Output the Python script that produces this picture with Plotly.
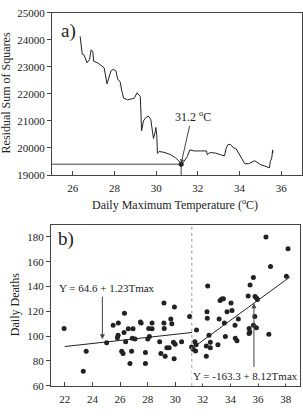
import plotly.graph_objects as go

# ---- Panel a) residual sum of squares vs breakpoint temperature ----
rss_temp = [26.35, 26.45, 26.53, 26.68, 26.8, 26.88, 26.96, 27.0, 27.19, 27.5, 27.64, 27.7,
            27.83, 27.94, 28.07, 28.15, 28.28, 28.34, 28.44, 28.63, 28.95, 29.08, 29.19, 29.24,
            29.3, 29.39, 29.5, 29.62, 29.74, 29.83, 29.87, 29.95, 29.98, 30.03, 30.06, 30.14,
            30.38, 30.7, 30.94, 31.18, 31.22, 31.34, 31.5, 31.62, 31.81, 32.13, 32.42, 32.45,
            32.53, 32.64, 32.85, 33.09, 33.28, 33.36, 33.45, 33.57, 33.73, 33.82, 33.96, 34.12,
            34.25, 34.44, 34.73, 35.0, 35.28, 35.44, 35.48, 35.55, 35.59, 35.6]
rss_value = [24129, 23473, 23450, 23150, 23270, 23630, 23570, 23210, 23150, 22970, 22375, 22550,
             22850, 22910, 22850, 22550, 22430, 22140, 21840, 21780, 21840, 22040, 21960, 21900,
             20640, 21000, 21120, 21180, 21060, 20530, 20350, 20580, 20760, 20470, 19800, 19870,
             19840, 19750, 19630, 19450, 19390, 19510, 19690, 19930, 19890, 19890, 19890, 19750,
             19810, 19830, 19810, 19750, 19710, 19990, 20130, 20130, 19990, 19990, 19810, 19630,
             19420, 19420, 19530, 19390, 19300, 19270, 19510, 19630, 19930, 19810]
break_temp = 31.2
break_rss = 19400

# ---- Panel b) daily deaths vs daily max temperature ----
tmax = [21.95, 23.34, 23.55, 25.03, 25.5, 25.81, 25.86, 25.88, 26.12, 26.22, 26.32, 26.29,
        26.41, 26.6, 26.72, 26.84, 26.89, 26.94, 27.08, 27.48, 27.53, 27.84, 27.84, 28.01,
        28.08, 28.13, 28.32, 28.32, 28.87, 28.96, 29.18, 29.18, 29.2, 29.27, 29.39, 29.56,
        29.68, 29.75, 29.87, 29.92, 29.94, 29.99, 30.46, 31.04, 31.18, 31.3, 31.42, 31.47,
        31.54, 31.51, 32.25, 32.25, 32.3, 32.32, 32.35, 32.44, 32.54, 32.54, 33.09, 33.18,
        33.25, 33.37, 33.49, 33.56, 33.63, 33.75, 34.04, 34.11, 34.33, 34.35, 34.47, 34.57,
        35.28, 35.35, 35.35, 35.4, 35.42, 35.66, 35.66, 35.76, 35.78, 35.9, 35.95, 36.57,
        36.78, 36.9, 38.05, 38.17, 35.88]
deaths = [106.2, 71.7, 87.8, 94.8, 108.8, 98.7, 100.8, 110.6, 87.8, 86, 118.4, 102.9,
          95.6, 106, 77.9, 87.8, 98.4, 106, 97.7, 111.4, 110.6, 86.8, 77.9, 97.7,
          106.2, 99.7, 106, 110.6, 95.6, 86, 126.8, 110.6, 106.2, 83.9, 90.6, 90.6,
          113.8, 110.1, 95.1, 81.8, 123.6, 93.5, 95.6, 115.8, 91.2, 89.4, 95.6, 88.1,
          104.9, 93.2, 83.9, 92, 119.7, 114.5, 140.5, 100.8, 95.1, 90.6, 93, 113.8,
          128.8, 129.9, 130.1, 110.6, 99.7, 119.7, 126.8, 120.8, 108.8, 98.4, 96.4, 113.8,
          132.5, 106.2, 102.1, 103.4, 141.3, 147.3, 108.8, 115.8, 132, 130.6, 129.6, 180,
          101.6, 156.1, 148.3, 170.4, 106.8]
low_a, low_b = 64.6, 1.23
high_a, high_b = -163.3, 8.12
low_x = [22.0, 31.2]
high_x = [31.5, 38.3]

FONT = "Liberation Serif"
INK = "#222222"
AX = "#444444"

fig = go.Figure()
fig.add_trace(go.Scatter(x=rss_temp, y=rss_value, mode="lines",
                         line=dict(color=INK, width=1), xaxis="x", yaxis="y"))
fig.add_trace(go.Scatter(x=[25, break_temp, break_temp], y=[break_rss, break_rss, 19000],
                         mode="lines", line=dict(color=AX, width=1), xaxis="x", yaxis="y"))
fig.add_trace(go.Scatter(x=[break_temp], y=[break_rss], mode="markers",
                         marker=dict(color=INK, size=5), xaxis="x", yaxis="y"))

fig.add_trace(go.Scatter(x=tmax, y=deaths, mode="markers",
                         marker=dict(color=INK, size=5), xaxis="x2", yaxis="y2"))
fig.add_trace(go.Scatter(x=low_x, y=[low_a + low_b * v for v in low_x], mode="lines",
                         line=dict(color=INK, width=1), xaxis="x2", yaxis="y2"))
fig.add_trace(go.Scatter(x=high_x, y=[high_a + high_b * v for v in high_x], mode="lines",
                         line=dict(color=INK, width=1), xaxis="x2", yaxis="y2"))
fig.add_trace(go.Scatter(x=[break_temp, break_temp], y=[60, 190], mode="lines",
                         line=dict(color="#999999", width=1, dash="dot"), xaxis="x2", yaxis="y2"))

W, H = 303, 419
axis_common = dict(showline=True, linecolor=AX, linewidth=1, mirror=True, showgrid=False,
                   zeroline=False, tickfont=dict(family=FONT, size=11, color=INK),
                   tickcolor=AX, ticklen=4, tickformat="d")

fig.update_layout(
    width=W, height=H, margin=dict(l=0, r=0, t=0, b=0),
    paper_bgcolor="white", plot_bgcolor="white", showlegend=False,
    font=dict(family=FONT, color=INK),
    xaxis=dict(domain=[52 / W, 302 / W], range=[25, 37], tickvals=[26, 28, 30, 32, 34, 36],
               ticks="inside", anchor="y", ticklabelstandoff=3, **axis_common),
    yaxis=dict(domain=[1 - 174 / H, 1 - 7 / H], range=[19000, 25000], dtick=1000,
               ticks="outside", anchor="x", **axis_common),
    xaxis2=dict(domain=[51 / W, 299.5 / W], range=[21, 39],
                tickvals=[22, 24, 26, 28, 30, 32, 34, 36, 38],
                ticks="inside", anchor="y2", ticklabelstandoff=3, **axis_common),
    yaxis2=dict(domain=[1 - 391 / H, 1 - 225 / H], range=[60, 190],
                tickvals=[60, 80, 100, 120, 140, 160, 180],
                ticks="outside", anchor="x2", **axis_common),
)

C = dict(xanchor="center", yanchor="middle", showarrow=False)
ann = [
    dict(text="Daily Maximum Temperature (<sup>o</sup>C)", xref="paper", yref="paper",
         x=175 / W, y=1 - 204 / H, font=dict(size=12), **C),
    dict(text="Residual Sum of Squares", xref="paper", yref="paper", textangle=-90,
         x=6 / W, y=1 - 90 / H, font=dict(size=12), **C),
    dict(text="Daily Deaths", xref="paper", yref="paper", textangle=-90,
         x=15 / W, y=1 - 308 / H, font=dict(size=12), **C),
    dict(text="a)", xref="x", yref="y", x=25.8, y=24340, font=dict(size=19), **C),
    dict(text="b)", xref="x2", yref="y2", x=22.05, y=178, font=dict(size=19), **C),
    dict(text="31.2 <sup>o</sup>C", xref="x", yref="y", x=31.75, y=21150,
         font=dict(size=12), **C),
    dict(text="", xref="x", yref="y", axref="x", ayref="y", x=break_temp, y=19430,
         ax=31.62, ay=20870, showarrow=True, arrowhead=2, arrowsize=0.8, arrowwidth=1,
         arrowcolor=AX),
    dict(text="Y = 64.6 + 1.23Tmax", xref="x2", yref="y2", x=25.05, y=139,
         font=dict(size=11), **C),
    dict(text="", xref="x2", yref="y2", axref="x2", ayref="y2", x=24.72, y=97.5,
         ax=24.72, ay=133, showarrow=True, arrowhead=2, arrowsize=1, arrowwidth=1,
         arrowcolor=AX),
    dict(text="Y = -163.3 + 8.12Tmax", xref="x2", yref="y2", x=35.1, y=67.5,
         font=dict(size=11), bgcolor="white", **C),
    dict(text="", xref="x2", yref="y2", axref="x2", ayref="y2", x=35.7, y=126.5,
         ax=35.7, ay=74, showarrow=True, arrowhead=2, arrowsize=1, arrowwidth=1,
         arrowcolor=AX),
]
fig.update_layout(annotations=ann)

fig.write_html("out.html")
